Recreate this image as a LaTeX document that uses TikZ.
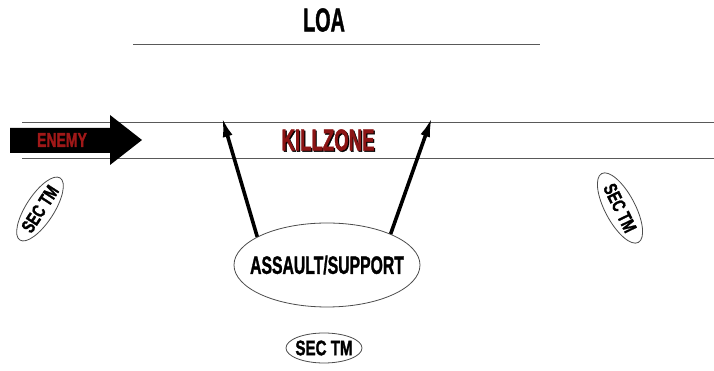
\documentclass[tikz,border=0pt]{standalone}
\usepackage{fontspec}
\setmainfont{Liberation Sans}
\newfontfamily\impfont[BoldFeatures={FakeBold=1.6}]{Liberation Sans}
\usetikzlibrary{shapes.geometric,arrows.meta}
\definecolor{kz}{HTML}{8B1414}
\definecolor{en}{HTML}{A01818}
\newcommand{\imp}[3]{\scalebox{#1}[1]{\fontsize{#2}{#2}\impfont\bfseries #3}}
\begin{document}
\begin{tikzpicture}[x=1pt,y=1pt,
  thinline/.style={draw=black!65,line width=0.9pt},
  oval/.style={ellipse,draw=black!70,line width=0.8pt,inner sep=0pt,fill=white},
  atkarrow/.style={line width=3.6pt,-{Latex[length=20pt,width=10pt]}},
  lbl/.style={inner sep=0pt}]
\useasboundingbox (0,0) rectangle (714,371);
% LOA
\node[lbl] (loa) at (324,351) {\imp{0.6}{33}{LOA}};
\coordinate (loaL) at (133,327);
\coordinate (loaR) at (540,327);
\draw[thinline] (loaL) -- (loaR);
% killzone lines
\coordinate (tL) at (22,249);
\coordinate (tR) at (714,249);
\coordinate (bL) at (22,213);
\coordinate (bR) at (714,213);
\draw[thinline] (tL) -- (tR);
\draw[thinline] (bL) -- (bR);
% enemy arrow
\fill[black] (10,243) -- (110,243) -- (110,256) -- (142,231) -- (110,206) -- (110,218) -- (10,218) -- cycle;
\node[lbl,text=en] (enemy) at (62,231) {\imp{0.7}{20}{ENEMY}};
% killzone text
\node[lbl,text=black] at (329.2,229.8) {\imp{0.62}{30}{KILLZONE}};
\node[lbl,text=kz] (kill) at (328,231) {\imp{0.62}{30}{KILLZONE}};
% assault/support
\node[oval,minimum width=186pt,minimum height=84pt] (as) at (327,106) {};
\node[lbl] (astext) at (as.center) {\imp{0.63}{25}{ASSAULT/SUPPORT}};
\coordinate (tipL) at (222,254);
\coordinate (tipR) at (432,254);
\draw[atkarrow] (as.158) -- (tipL);
\draw[atkarrow] (as.26) -- (tipR);
% sec tm bottom
\node[oval,minimum width=76pt,minimum height=30pt] (secB) at (324,23) {};
\node[lbl] at (secB.center) {\imp{0.72}{21}{SEC TM}};
% sec tm left
\node[oval,minimum width=74pt,minimum height=28pt,rotate=57] (secL) at (40,162) {};
\node[lbl,rotate=57] at (secL.center) {\imp{0.72}{19}{SEC TM}};
% sec tm right
\node[oval,minimum width=78pt,minimum height=30pt,rotate=-62] (secR) at (620,163) {};
\node[lbl,rotate=-64] at (secR.center) {\imp{0.72}{19}{SEC TM}};
\end{tikzpicture}
\end{document}
